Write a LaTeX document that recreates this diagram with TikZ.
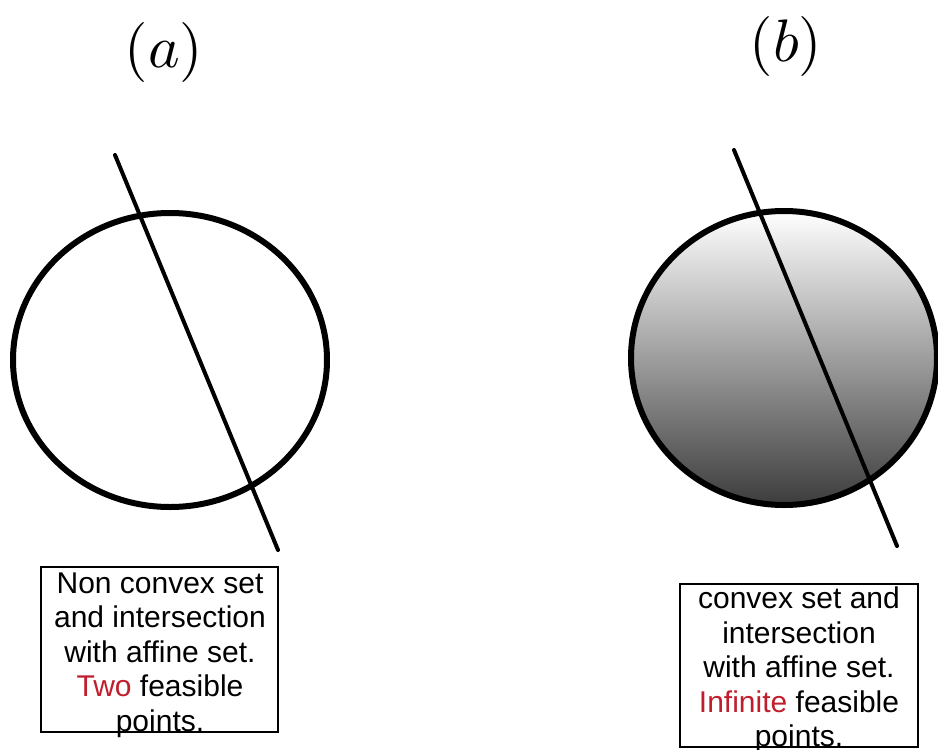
\documentclass[tikz,border=0pt]{standalone}
\usepackage{fontspec}
\newfontfamily\boxfont{Liberation Sans}
\definecolor{hlred}{RGB}{192,30,45}
\definecolor{shadedark}{RGB}{60,60,60}
\begin{document}
\begin{tikzpicture}[x=1pt,y=-1pt,
  setline/.style={line width=6pt},
  affine/.style={line width=4pt,line cap=round},
  caption/.style={font=\boxfont\fontsize{30}{34.5}\selectfont,align=center,inner sep=0pt},
  frame/.style={draw,line width=1.2pt},
  sublabel/.style={inner sep=0pt}]
\useasboundingbox (0,0) rectangle (938,750);
% labels
\node[sublabel] (la) at (164,52) {\scalebox{6}{$(a)$}};
\node[sublabel] (lb) at (786,46) {\scalebox{6}{$(b)$}};
% (a) non-convex set
\draw[setline] (170,360) ellipse [x radius=157, y radius=147];
\coordinate (a1) at (115,155);
\coordinate (a2) at (278,550);
\draw[affine] (a1) -- (a2);
% (b) convex set
\shade[top color=white,bottom color=shadedark] (784,358) ellipse [x radius=153, y radius=147];
\draw[setline] (784,358) ellipse [x radius=153, y radius=147];
\coordinate (b1) at (734,150);
\coordinate (b2) at (897,546);
\draw[affine] (b1) -- (b2);
% boxes
\draw[frame] (41,567) rectangle (278,732);
\node[caption] (ta) at (160,655) {Non convex set\\and intersection\\with affine set.\\\textcolor{hlred}{Two} feasible\\points.};
\draw[frame] (680,584) rectangle (918,747);
\node[caption] (tb) at (799,670) {convex set and\\intersection\\with affine set.\\\textcolor{hlred}{Infinite} feasible\\points.};
\end{tikzpicture}
\end{document}
